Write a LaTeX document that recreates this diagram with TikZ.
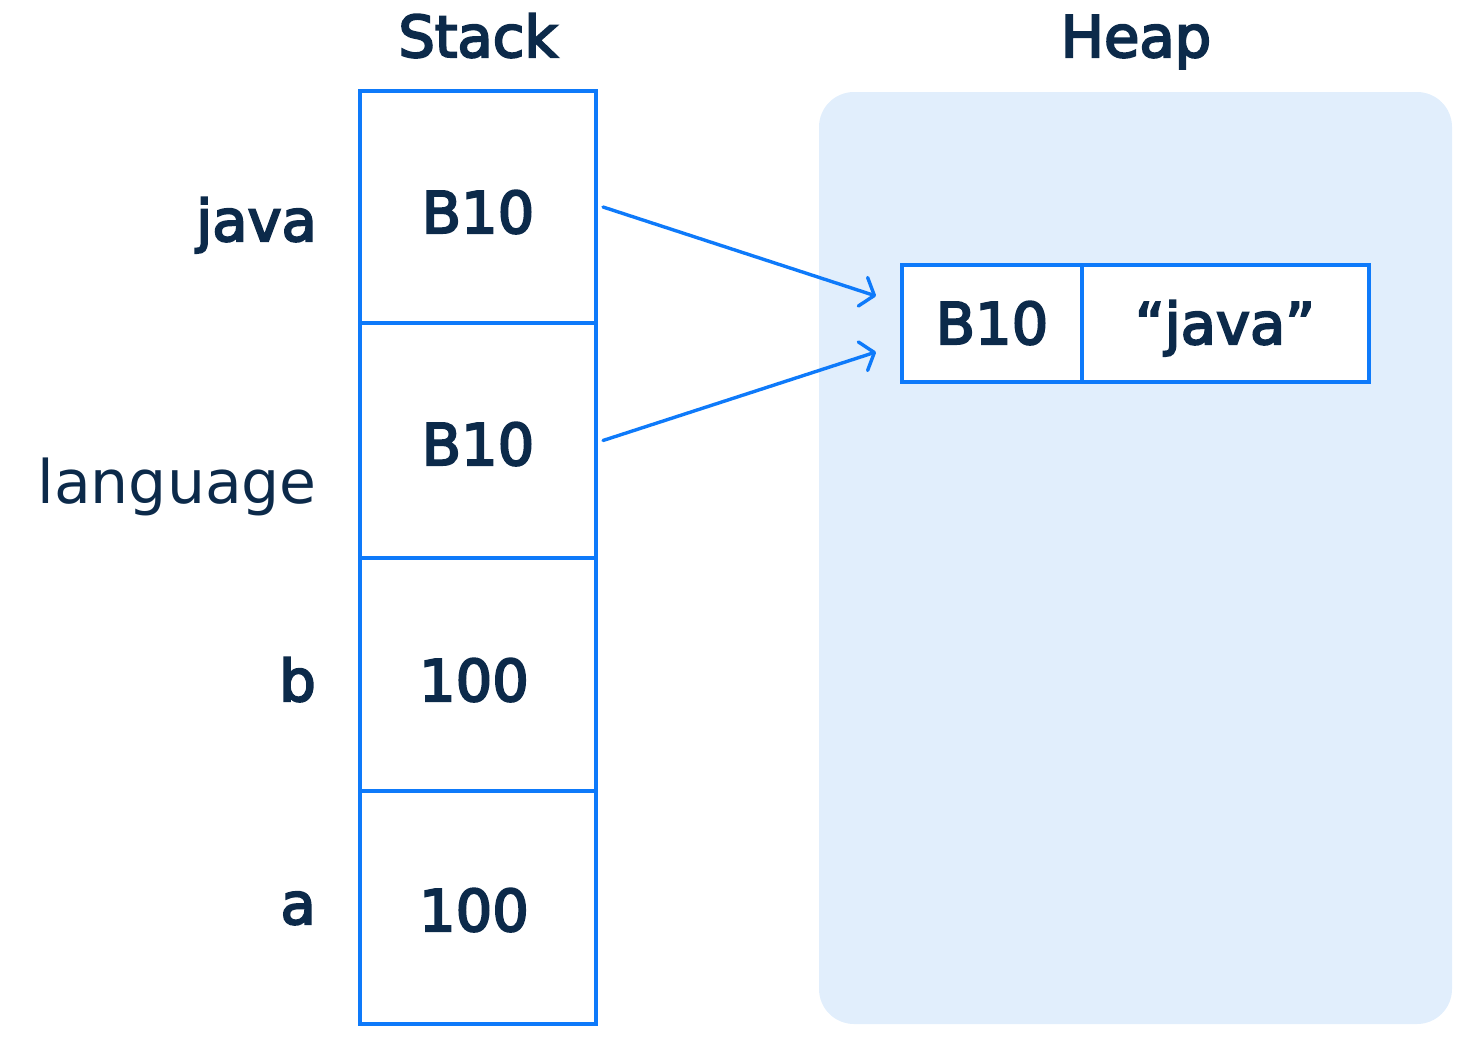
\documentclass[tikz,border=0pt]{standalone}
\usepackage{fontspec}
\setmainfont{DejaVu Sans}
\newfontfamily\medfont[FakeBold=3.6]{DejaVu Sans}
\usetikzlibrary{arrows.meta}
\definecolor{ink}{RGB}{12,42,74}
\definecolor{lineblue}{RGB}{14,122,250}
\definecolor{heapfill}{RGB}{225,238,252}
\begin{document}
\begin{tikzpicture}[x=1pt,y=-1pt,
  cell/.style={draw=lineblue,line width=3.4pt,fill=white,inner sep=0pt,outer sep=0pt},
  txt/.style={text=ink,font=\fontsize{57.5}{66}\selectfont\medfont,anchor=base,inner sep=0pt},
  lbl/.style={text=ink,font=\fontsize{57.5}{66}\selectfont\medfont,anchor=base east,inner sep=0pt},
  lblreg/.style={text=ink,font=\fontsize{60}{70}\selectfont,anchor=base east,inner sep=0pt},
  ptr/.style={draw=lineblue,line width=3.4pt,line cap=round,-{Straight Barb[length=12pt,width=30pt,line cap=round,line join=round]}}
]
\useasboundingbox (0,0) rectangle (1474,1041);
% heap area
\node[fill=heapfill,rounded corners=35pt,minimum width=633pt,minimum height=932pt,inner sep=0pt] (heap) at (1135.5,558) {};
% titles
\node[txt] (stacktitle) at (478,57) {Stack};
\node[txt] (heaptitle) at (1136,57) {Heap};
% stack cells
\node[cell,minimum width=236pt,minimum height=232pt] (s1) at (478,207) {};
\node[cell,minimum width=236pt,minimum height=235pt] (s2) at (478,440.5) {};
\node[cell,minimum width=236pt,minimum height=233pt] (s3) at (478,674.5) {};
\node[cell,minimum width=236pt,minimum height=233pt] (s4) at (478,907.5) {};
\node[txt] (v1) at (478,233) {B10};
\node[txt] (v2) at (478,465) {B10};
\node[txt] (v3) at (474,701) {100};
\node[txt] (v4) at (474,931) {100};
% variable names
\node[lbl] (n1) at (317,241) {java};
\node[lblreg] (n2) at (317,503) {language};
\node[lbl] (n3) at (316,701) {b};
\node[lbl] (n4) at (316,924) {a};
% heap object
\node[cell,minimum width=180pt,minimum height=117pt] (h1) at (992,323.5) {};
\node[cell,minimum width=287pt,minimum height=117pt] (h2) at (1225.5,323.5) {};
\node[txt] (hv1) at (992,344) {B10};
\node[txt] (hv2) at (1225,344) {“java”};
% pointers
\coordinate (t1) at ([shift={(-26,-27.5)}]h1.west);
\coordinate (t2) at ([shift={(-26,28.5)}]h1.west);
\draw[ptr] ([xshift=7pt]s1.east) -- (t1);
\draw[ptr] ([xshift=7pt]s2.east) -- (t2);
\end{tikzpicture}
\end{document}
